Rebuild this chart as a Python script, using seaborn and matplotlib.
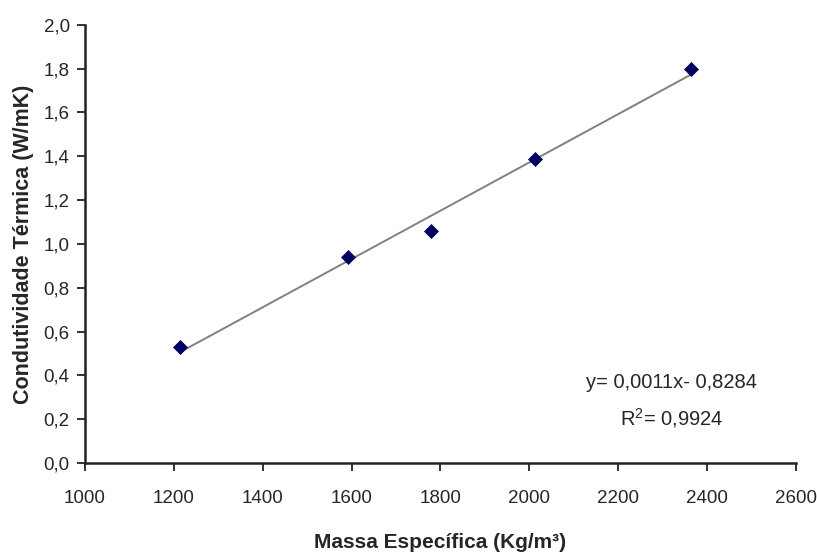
import numpy as np
import pandas as pd
import matplotlib
matplotlib.use('Agg')
import matplotlib.pyplot as plt
import seaborn as sns
from matplotlib.ticker import FuncFormatter

# values
massa = [1215, 1592, 1780, 2013, 2365]
condutividade = [0.53, 0.94, 1.06, 1.39, 1.80]
x_ticks = [1000, 1200, 1400, 1600, 1800, 2000, 2200, 2400, 2600]
y_ticks = [0.0, 0.2, 0.4, 0.6, 0.8, 1.0, 1.2, 1.4, 1.6, 1.8, 2.0]
equation = "y= 0,0011x- 0,8284"
r2_text = "R$^2$= 0,9924"

df = pd.DataFrame({'massa': massa, 'cond': condutividade})

sns.set_style('ticks')
plt.rcParams['font.family'] = ['Liberation Sans', 'DejaVu Sans']
plt.rcParams['mathtext.fontset'] = 'custom'
plt.rcParams['mathtext.rm'] = 'Liberation Sans'

fig = plt.figure(figsize=(8.17, 5.52), dpi=100)
ax = fig.add_axes([0.104, 0.161, 0.870, 0.794])

sns.regplot(data=df, x='massa', y='cond', ax=ax, scatter=False, ci=None,
            line_kws={'color': '#808080', 'lw': 1.4})
sns.scatterplot(data=df, x='massa', y='cond', ax=ax, marker='D', s=50,
                color='#000060', edgecolor='#000060', zorder=3)

ax.set_xlim(1000, 2600)
ax.set_ylim(0, 2.0)
ax.set_xticks(x_ticks)
ax.set_yticks(y_ticks)
ax.yaxis.set_major_formatter(FuncFormatter(lambda v, p: f"{v:.1f}".replace('.', ',')))
ax.tick_params(labelsize=13.5, length=6, width=1.3, color='#222222')
ax.tick_params(axis='x', pad=13)
ax.tick_params(axis='y', pad=5)
for s in ['left', 'bottom']:
    ax.spines[s].set_linewidth(1.8)
    ax.spines[s].set_color('#222222')
sns.despine(ax=ax)

ax.set_xlabel('Massa Específica (Kg/m³)', fontsize=15, fontweight='bold', labelpad=19)
ax.set_ylabel('Condutividade Térmica (W/mK)', fontsize=15.5, fontweight='bold', labelpad=7)

ax.text(2320, 0.37, equation, fontsize=14.5, ha='center', va='center')
ax.text(2320, 0.205, r2_text, fontsize=14.5, ha='center', va='center')

fig.savefig('out.png', dpi=100)
